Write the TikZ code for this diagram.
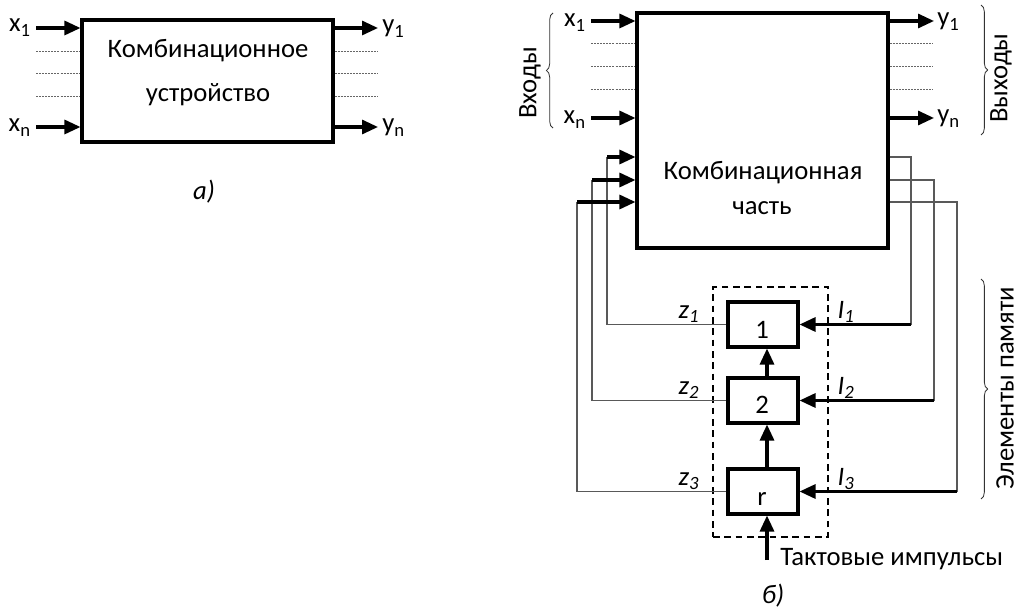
\documentclass[tikz,border=0pt]{standalone}
\usepackage{fontspec}
\setmainfont{Carlito}
\usetikzlibrary{arrows.meta,fit,decorations.pathreplacing}
\begin{document}
\begin{tikzpicture}[x=0.75pt,y=-0.75pt,
  font=\fontsize{20}{24}\selectfont,
  arr/.style={line width=2.3pt, -{Triangle[length=12pt,width=10.5pt]}},
  thn/.style={line width=0.8pt, draw=black!65, line join=miter},
  dots/.style={line width=0.6pt, draw=black!60, dash pattern=on 1.5pt off 0.8pt},
  brc/.style={decorate, decoration={brace, amplitude=5pt}, line width=0.6pt, draw=black!80},
  lbl/.style={inner sep=0pt},
  blk/.style={draw, line width=2.3pt, inner sep=0pt}]
\useasboundingbox (0,0) rectangle (1019,616);

% ---------- a) ----------
\node[blk, fit={(82,20) (333,142)}] (A) {};
\node[lbl, anchor=base] (At1) at (208,58) {Комбинационное};
\node[lbl, anchor=base] (At2) at (208,102) {устройство};

\coordinate (ax1) at (36,28);
\coordinate (axn) at (36,127);
\draw[arr] (ax1) -- (ax1 -| A.west);
\draw[arr] (axn) -- (axn -| A.west);
\node[lbl, anchor=base east] (lx1) at (31,32) {x\textsubscript{1}};
\node[lbl, anchor=base east] (lxn) at (31,132) {x\textsubscript{n}};

\coordinate (ay1) at (378,28);
\coordinate (ayn) at (378,127);
\draw[arr] (ay1 -| A.east) -- (ay1);
\draw[arr] (ayn -| A.east) -- (ayn);
\node[lbl, anchor=base west] (ly1) at (382,33) {y\textsubscript{1}};
\node[lbl, anchor=base west] (lyn) at (382,132) {y\textsubscript{n}};

\foreach \yy in {51,73,96} {
  \coordinate (dl\yy) at (36,\yy);
  \coordinate (dr\yy) at (378,\yy);
  \draw[dots] (dl\yy) -- (dl\yy -| A.west);
  \draw[dots] (dr\yy -| A.east) -- (dr\yy);
}
\node[lbl, anchor=base] (capA) at (204,200) {\textit{а)}};

% ---------- б) ----------
\node[blk, fit={(637,13) (888,248)}] (B) {};
\node[lbl, anchor=base] (Bt1) at (763,180) {Комбинационная};
\node[lbl, anchor=base] (Bt2) at (762,215) {часть};

\coordinate (bx1) at (591,21);
\coordinate (bxn) at (591,118);
\draw[arr] (bx1) -- (bx1 -| B.west);
\draw[arr] (bxn) -- (bxn -| B.west);
\node[lbl, anchor=base east] (mx1) at (586,27) {x\textsubscript{1}};
\node[lbl, anchor=base east] (mxn) at (586,124) {x\textsubscript{n}};

\coordinate (by1) at (934,21);
\coordinate (byn) at (934,118);
\draw[arr] (by1 -| B.east) -- (by1);
\draw[arr] (byn -| B.east) -- (byn);
\node[lbl, anchor=base west] (my1) at (937,26) {y\textsubscript{1}};
\node[lbl, anchor=base west] (myn) at (937,123) {y\textsubscript{n}};

\foreach \yy in {43,66,89} {
  \coordinate (el\yy) at (591,\yy);
  \coordinate (er\yy) at (933,\yy);
  \draw[dots] (el\yy) -- (el\yy -| B.west);
  \draw[dots] (er\yy -| B.east) -- (er\yy);
}

% braces
\coordinate (bi1) at (553,128); \coordinate (bi2) at (553,13);
\draw[brc] (bi1) -- (bi2);
\node[lbl, rotate=90] (tin) at (530,83) {Входы};
\coordinate (bo1) at (981,5); \coordinate (bo2) at (981,135);
\draw[brc] (bo1) -- (bo2);
\node[lbl, rotate=90] (tout) at (1001,78) {Выходы};
\coordinate (bm1) at (981,279); \coordinate (bm2) at (981,499);
\draw[brc] (bm1) -- (bm2);
\node[lbl, rotate=90] (tmem) at (1005,388) {Элементы памяти};

% memory
\node[draw, line width=1.3pt, dash pattern=on 5pt off 3.5pt, inner sep=0pt, fit={(713,287) (828,537)}] (D) {};
\node[blk, fit={(728,302) (798,347)}] (M1) {};
\node[blk, fit={(728,378) (798,423)}] (M2) {};
\node[blk, fit={(728,469) (798,514)}] (M3) {};
\node[lbl, anchor=base] (n1) at (762,338) {1};
\node[lbl, anchor=base] (n2) at (762,413) {2};
\node[lbl, anchor=base] (n3) at (762,505) {r};

\coordinate (ax) at (767,0);
\draw[arr] (ax |- M2.north) -- (ax |- M1.south);
\draw[arr] (ax |- M3.north) -- (ax |- M2.south);
\coordinate (clk) at (767,560);
\draw[arr] (clk) -- (clk |- M3.south);
\node[lbl, anchor=base west] (tclk) at (780,565) {Тактовые импульсы};
\node[lbl, anchor=base] (capB) at (773,603) {\textit{б)}};

% feedback z
\coordinate (c1) at (607,157);
\coordinate (c2) at (592,180);
\coordinate (c3) at (577,202);
\draw[thn] (M1.west) -| (c1);
\draw[thn] (M2.west) -| (c2);
\draw[thn] (M3.west) -| (c3);
\draw[arr] (c1) -- (c1 -| B.west);
\draw[arr] (c2) -- (c2 -| B.west);
\draw[arr] (c3) -- (c3 -| B.west);

% excitation I
\coordinate (o1) at (911,157);
\coordinate (o2) at (934,180);
\coordinate (o3) at (957,202);
\draw[thn] (o1 -| B.east) -- (o1) -- (o1 |- M1.east);
\draw[thn] (o2 -| B.east) -- (o2) -- (o2 |- M2.east);
\draw[thn] (o3 -| B.east) -- (o3) -- (o3 |- M3.east);
\draw[arr] (o1 |- M1.east) -- (M1.east);
\draw[arr] (o2 |- M2.east) -- (M2.east);
\draw[arr] (o3 |- M3.east) -- (M3.east);

\node[lbl, anchor=base] (z1) at (689,318) {\textit{z\textsubscript{1}}};
\node[lbl, anchor=base] (z2) at (689,394) {\textit{z\textsubscript{2}}};
\node[lbl, anchor=base] (z3) at (689,485) {\textit{z\textsubscript{3}}};
\node[lbl, anchor=base] (i1) at (846,318) {\textit{I\textsubscript{1}}};
\node[lbl, anchor=base] (i2) at (846,394) {\textit{I\textsubscript{2}}};
\node[lbl, anchor=base] (i3) at (846,485) {\textit{I\textsubscript{3}}};
\end{tikzpicture}
\end{document}
